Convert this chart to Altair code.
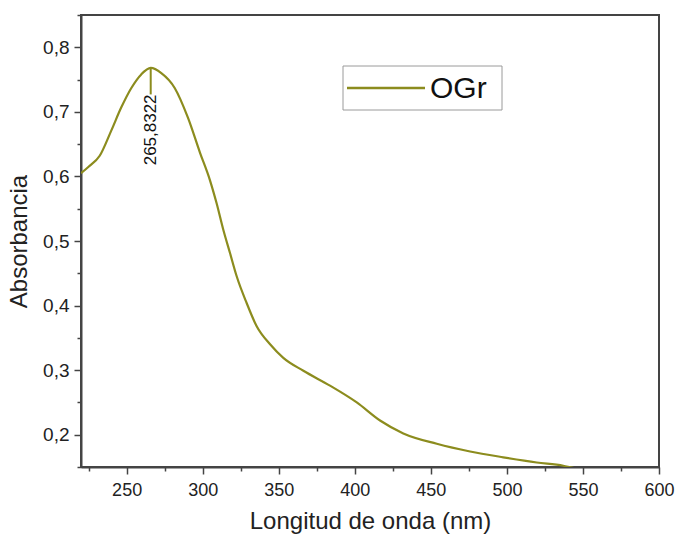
import altair as alt
import pandas as pd

# Spectrum of OGr (wavelength nm, absorbance)
wavelength = [220, 225, 232.3, 239.9, 246.5, 253.1, 259.6, 265.83, 272.8, 281.6, 290.3, 298.2,
              304.8, 309.2, 313.6, 318.0, 322.4, 328.9, 335.5, 344.3, 353.0, 366.2, 383.7,
              401.3, 416.6, 431.9, 453.9, 475.8, 497.6, 519.6, 537.1, 544.8]
absorbance = [0.605, 0.615, 0.632, 0.671, 0.707, 0.737, 0.758, 0.768, 0.760, 0.737, 0.691, 0.637,
              0.594, 0.558, 0.517, 0.481, 0.445, 0.404, 0.368, 0.340, 0.319, 0.299, 0.276,
              0.250, 0.222, 0.202, 0.186, 0.174, 0.165, 0.157, 0.152, 0.148]

peak_x = [265.83]
peak_y = [0.768]
peak_y2 = [0.727]
peak_label = ["265,8322"]

x_major = [250, 300, 350, 400, 450, 500, 550, 600]
x_minor = [225, 275, 325, 375, 425, 475, 525, 575]
y_major = [0.2, 0.3, 0.4, 0.5, 0.6, 0.7, 0.8]
y_minor = [0.15, 0.25, 0.35, 0.45, 0.55, 0.65, 0.75, 0.85]

series_name = "OGr"
color = "#8c8c1e"
FONT = "Liberation Sans"

df = pd.DataFrame({"x": wavelength, "y": absorbance})
pk = pd.DataFrame({"x": peak_x, "y": peak_y, "y2": peak_y2, "label": peak_label})
one = pd.DataFrame({"k": [0]})

xscale = alt.Scale(domain=[220, 600], nice=False, zero=False)
yscale = alt.Scale(domain=[0.15, 0.85], nice=False, zero=False)

xaxis = alt.Axis(
    values=x_major, orient="bottom",
    title="Longitud de onda (nm)",
    tickSize=7, labelFlush=False, labelOverlap=False, grid=False,
    labelPadding=7, titlePadding=10, labelFontSize=18,
)
yaxis = alt.Axis(
    values=y_major, orient="left",
    title="Absorbancia",
    labelExpr="replace(format(datum.value, '.1f'), '.', ',')",
    tickSize=7, labelFlush=False, labelOverlap=False, grid=False,
    labelPadding=5, titlePadding=11, labelFontSize=19,
)
xaxis_minor = alt.Axis(values=x_minor, orient="bottom", labels=False, domain=False,
                       tickSize=4, title=None, grid=False)
yaxis_minor = alt.Axis(values=y_minor, orient="left", labels=False, domain=False,
                       tickSize=4, title=None, grid=False)

line = alt.Chart(df).mark_line(color=color, strokeWidth=2.2, clip=True, interpolate="monotone").encode(
    x=alt.X("x:Q", scale=xscale, axis=xaxis),
    y=alt.Y("y:Q", scale=yscale, axis=yaxis),
)
minor = alt.Chart(df).mark_line(opacity=0, clip=True).encode(
    x=alt.X("x:Q", scale=xscale, axis=xaxis_minor),
    y=alt.Y("y:Q", scale=yscale, axis=yaxis_minor),
)

peak_rule = alt.Chart(pk).mark_rule(color=color, strokeWidth=2).encode(
    x=alt.X("x:Q", axis=None), y=alt.Y("y:Q", axis=None), y2="y2:Q"
)
peak_text = alt.Chart(pk).mark_text(
    angle=270, align="right", baseline="middle", fontSize=17, font=FONT, color="#111"
).encode(x=alt.X("x:Q", axis=None), y=alt.Y("y2:Q", axis=None), text="label:N")

# legend box
leg_box = alt.Chart(one).mark_rect(fill="white", stroke="#9a9a9a", strokeWidth=1).encode(
    x=alt.value(262), x2=alt.value(421), y=alt.value(51), y2=alt.value(95)
)
leg_line = alt.Chart(one).mark_rule(color=color, strokeWidth=2.5).encode(
    x=alt.value(266), x2=alt.value(344), y=alt.value(73)
)
leg_text = alt.Chart(one).mark_text(
    align="left", baseline="middle", fontSize=30, font=FONT, color="#111"
).encode(x=alt.value(349), y=alt.value(74), text=alt.value(series_name))

chart = alt.layer(line, minor, peak_rule, peak_text, leg_box, leg_line, leg_text).resolve_axis(
    x="independent", y="independent"
).properties(
    width=578, height=452,
    autosize=alt.AutoSizeParams(type="none"),
    padding={"left": 81, "top": 15, "right": 19, "bottom": 71},
).configure_view(
    stroke="#444", strokeWidth=2
).configure_axis(
    domainColor="#444", domainWidth=2, tickColor="#444", tickWidth=1.5,
    labelFont=FONT, titleFont=FONT, titleFontSize=24,
    labelColor="#222", titleColor="#222", titleFontWeight="normal",
)

chart.save("out.html", embed_options={"renderer": "svg", "actions": False})
